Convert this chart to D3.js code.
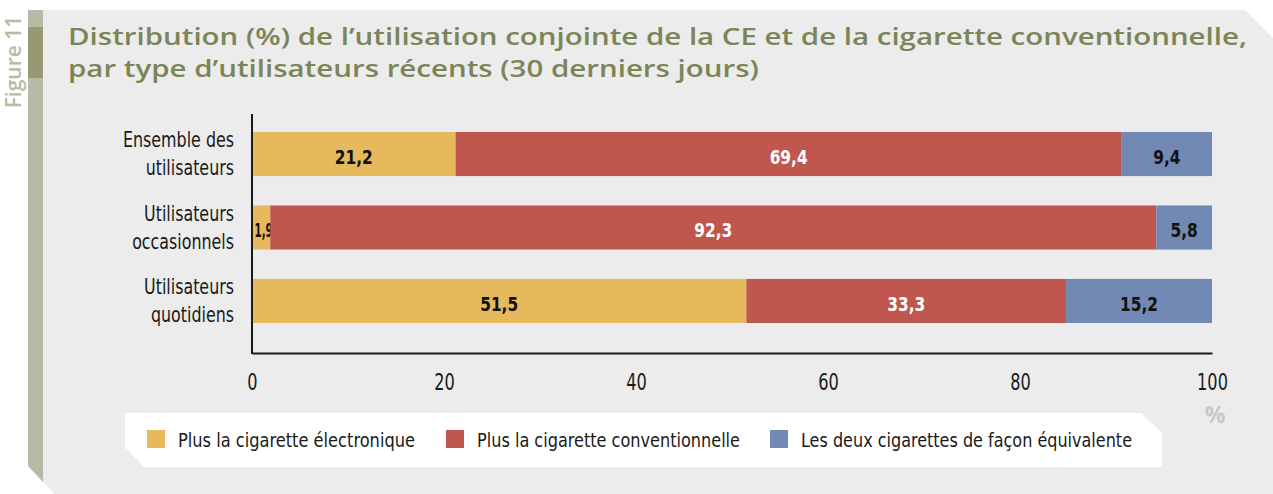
<!DOCTYPE html>
<html>
<head>
<meta charset="utf-8">
<script src="https://cdn.jsdelivr.net/npm/d3@7"></script>
<style>
  body { margin: 0; background: #fff; }
  svg { display: block; }
  .cond { font-family: 'DejaVu Sans Condensed', 'Liberation Sans Narrow', sans-serif; }
</style>
</head>
<body>
<svg width="1273" height="494"></svg>
<script>
// data
var categories = [["Ensemble des", "utilisateurs"], ["Utilisateurs", "occasionnels"], ["Utilisateurs", "quotidiens"]];
var seriesNames = ["Plus la cigarette électronique", "Plus la cigarette conventionnelle", "Les deux cigarettes de façon équivalente"];
var ecig = [21.2, 1.9, 51.5];
var conv = [69.4, 92.3, 33.3];
var both = [9.4, 5.8, 15.2];
var xTicks = [0, 20, 40, 60, 80, 100];

// squeeze text horizontally, the reference uses a condensed face
function condense(sel, k) {
    sel.each(function() {
        var w = this.getComputedTextLength();
        d3.select(this).attr("textLength", w * k).attr("lengthAdjust", "spacingAndGlyphs");
    });
}

function main() {
    var svg = d3.select("svg");
    var colors = ["#e6b95c", "#bf574f", "#7189b3"];
    var labelColors = ["#111", "#fff", "#111"];

    // background panel with clipped corners
    svg.append("path")
        .attr("d", "M43,10 L1245,10 L1273,38 L1273,494 L55,494 L43,482 Z")
        .attr("fill", "#ececec");
    // side strip
    svg.append("path")
        .attr("d", "M28,10 L43,10 L43,482 L28,466 Z")
        .attr("fill", "#b9baa6");
    svg.append("rect").attr("x", 28).attr("y", 27).attr("width", 15).attr("height", 51)
        .attr("fill", "#989972");
    svg.append("text")
        .attr("transform", "translate(21,62) rotate(-90)")
        .attr("text-anchor", "middle")
        .style("font-family", "'Open Sans', sans-serif")
        .style("font-weight", "600")
        .style("font-size", "21px")
        .attr("fill", "#b9baa6")
        .text("Figure 11");

    // title, squeezed to the reference width
    var titleLines = ["Distribution (%) de l\u2019utilisation conjointe de la CE et de la cigarette conventionnelle,",
                      "par type d\u2019utilisateurs récents (30 derniers jours)"];
    var title = svg.append("g");
    var t1 = title.append("text").attr("x", 68).attr("y", 45).text(titleLines[0]);
    title.append("text").attr("x", 68).attr("y", 77).text(titleLines[1]);
    title.selectAll("text")
        .style("font-family", "'Open Sans', sans-serif")
        .style("font-weight", "600")
        .style("font-size", "22.5px")
        .attr("fill", "#7b8557");
    var tk = 1179 / t1.node().getComputedTextLength();
    condense(title.selectAll("text"), tk);

    // scales
    var rows = categories.map(function(c, i) { return i; });
    var x = d3.scaleLinear().domain([0, 100]).range([252, 1212]);
    var y = d3.scaleBand().domain(rows).range([114, 341]).paddingInner(0.4).paddingOuter(0.245);

    var stack = d3.stack().keys([0, 1, 2])
        .value(function(d, k) { return d[k]; });
    var table = rows.map(function(i) { return [ecig[i], conv[i], both[i]]; });
    var layers = stack(table);

    var g = svg.append("g");
    layers.forEach(function(layer, k) {
        g.selectAll(".bar" + k)
            .data(layer)
            .enter().append("rect")
            .attr("x", function(d) { return x(d[0]); })
            .attr("y", function(d, i) { return y(i); })
            .attr("width", function(d) { return x(d[1]) - x(d[0]); })
            .attr("height", y.bandwidth())
            .attr("fill", colors[k]);

        var vals = g.selectAll(".val" + k)
            .data(layer)
            .enter().append("text")
            .attr("class", "cond")
            .attr("x", function(d) { return (x(d[0]) + x(d[1])) / 2 + (d[1] - d[0] < 3 ? 2.5 : 0); })
            .attr("y", function(d, i) { return y(i) + y.bandwidth() / 2 + 3; })
            .attr("dy", "0.36em")
            .attr("text-anchor", "middle")
            .style("font-weight", "bold")
            .style("font-size", "19px")
            .attr("fill", labelColors[k])
            .text(function(d) { return d3.format(".1f")(d[1] - d[0]).replace(".", ","); });
        vals.each(function(d) {
            condense(d3.select(this), d[1] - d[0] < 3 ? 0.6 : 0.9);
        });
    });

    // category labels
    rows.forEach(function(i) {
        var cy = y(i) + y.bandwidth() / 2;
        [-7, 21].forEach(function(off, j) {
            var lab = svg.append("text")
                .attr("class", "cond")
                .attr("x", 234).attr("y", cy + off)
                .attr("text-anchor", "end")
                .style("font-size", "21px")
                .attr("fill", "#1a1a1a")
                .text(categories[i][j]);
            condense(lab, 0.84);
        });
    });

    // axes
    svg.append("line").attr("x1", 252).attr("x2", 252).attr("y1", 114).attr("y2", 354)
        .attr("stroke", "#1a1a1a").attr("stroke-width", 2);
    var xAxis = svg.append("g")
        .attr("transform", "translate(0,353)")
        .call(d3.axisBottom(x).tickValues(xTicks).tickSize(0).tickPadding(21));
    xAxis.select(".domain").attr("stroke", "#1a1a1a").attr("stroke-width", 2);
    xAxis.selectAll("text")
        .attr("class", "cond")
        .style("font-size", "23px")
        .attr("fill", "#1a1a1a");
    condense(xAxis.selectAll("text"), 0.78);
    svg.append("text")
        .attr("x", 1215).attr("y", 423)
        .attr("text-anchor", "middle")
        .style("font-family", "'Open Sans', sans-serif")
        .style("font-weight", "bold")
        .style("font-size", "23px")
        .attr("fill", "#c8c8c8")
        .text("%");

    // legend
    svg.append("path")
        .attr("d", "M125,413 L1141,413 L1162,433 L1162,467 L144,467 L125,447 Z")
        .attr("fill", "#fff");
    var legendX = [147, 446, 770];
    var legendW = [237, 263, 331];
    seriesNames.forEach(function(name, k) {
        svg.append("rect").attr("x", legendX[k]).attr("y", 430).attr("width", 18).attr("height", 18)
            .attr("fill", colors[k]);
        svg.append("text")
            .attr("class", "cond")
            .attr("x", legendX[k] + 31).attr("y", 447)
            .style("font-size", "20px")
            .attr("fill", "#1a1a1a")
            .attr("textLength", legendW[k])
            .attr("lengthAdjust", "spacingAndGlyphs")
            .text(name);
    });
}
main();
</script>
</body>
</html>
